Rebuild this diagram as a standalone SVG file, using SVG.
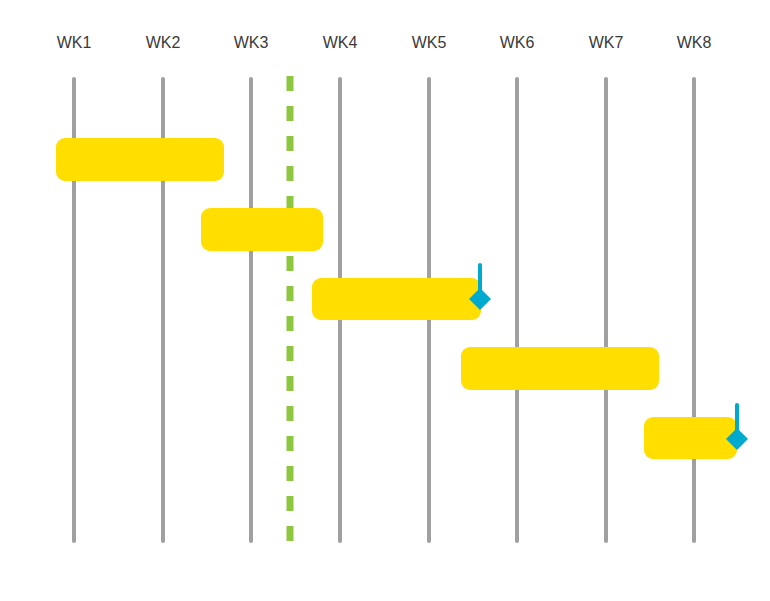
<svg xmlns="http://www.w3.org/2000/svg" width="770" height="601" viewBox="0 0 770 601">
<style>
.lbl{font-family:"Liberation Sans",Arial,sans-serif;font-size:16px;fill:#3a3a3a;text-anchor:middle}
.grid{stroke:#a0a0a0;stroke-width:4;stroke-linecap:round}
.bar{fill:#ffde00}
.ms{fill:#00a9ce}
.msl{stroke:#00a9ce;stroke-width:4;stroke-linecap:round}
</style>
<rect width="770" height="601" fill="#fff"/>
<g id="axis">
<text class="lbl" x="74" y="48">WK1</text>
<text class="lbl" x="163" y="48">WK2</text>
<text class="lbl" x="251" y="48">WK3</text>
<text class="lbl" x="340" y="48">WK4</text>
<text class="lbl" x="429" y="48">WK5</text>
<text class="lbl" x="517" y="48">WK6</text>
<text class="lbl" x="606" y="48">WK7</text>
<text class="lbl" x="694" y="48">WK8</text>
</g>
<g id="gridlines">
<line class="grid" x1="74" y1="79" x2="74" y2="541"/>
<line class="grid" x1="163" y1="79" x2="163" y2="541"/>
<line class="grid" x1="251" y1="79" x2="251" y2="541"/>
<line class="grid" x1="340" y1="79" x2="340" y2="541"/>
<line class="grid" x1="429" y1="79" x2="429" y2="541"/>
<line class="grid" x1="517" y1="79" x2="517" y2="541"/>
<line class="grid" x1="606" y1="79" x2="606" y2="541"/>
<line class="grid" x1="694" y1="79" x2="694" y2="541"/>
</g>
<g id="today">
<line x1="290" y1="76" x2="290" y2="541" stroke="#8dc63f" stroke-width="7" stroke-dasharray="15 15"/>
</g>
<g id="task1"><rect class="bar" x="56" y="138" width="168" height="43" rx="9"/></g>
<g id="task2"><rect class="bar" x="201" y="208" width="122" height="43" rx="9"/></g>
<g id="task3"><rect class="bar" x="312" y="278" width="169" height="42" rx="9"/></g>
<g id="task4"><rect class="bar" x="461" y="347" width="198" height="43" rx="9"/></g>
<g id="task5"><rect class="bar" x="644" y="417" width="93" height="42" rx="9"/></g>
<g id="milestone1">
<line class="msl" x1="480" y1="265" x2="480" y2="295"/>
<polygon class="ms" points="480,288 491,299 480,310 469,299"/>
</g>
<g id="milestone2">
<line class="msl" x1="737" y1="405" x2="737" y2="435"/>
<polygon class="ms" points="737,428 748,439 737,450 726,439"/>
</g>
</svg>
